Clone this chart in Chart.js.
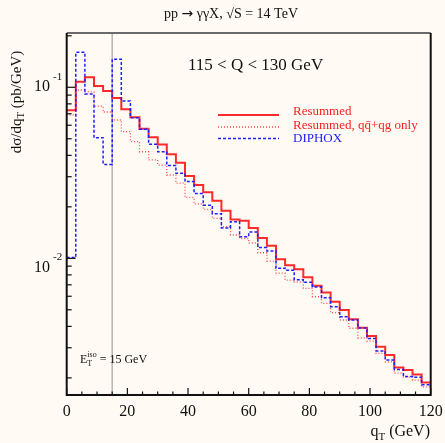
<!DOCTYPE html>
<html>
<head>
<meta charset="utf-8">
<script src="https://cdn.jsdelivr.net/npm/chart.js@4.4.1/dist/chart.umd.min.js"></script>
<style>
    html, body { margin: 0; padding: 0; background: #fffaf3; }
    #wrap { width: 445px; height: 443px; }
</style>
</head>
<body>
<div id="wrap"><canvas id="qtChart" width="445" height="443"></canvas></div>
<script>
// lower edges of the 3 GeV q_T bins
const binLow = [0, 3, 6, 9, 12, 15, 18, 21, 24, 27, 30, 33, 36, 39, 42, 45, 48, 51, 54, 57,
                60, 63, 66, 69, 72, 75, 78, 81, 84, 87, 90, 93, 96, 99, 102, 105, 108, 111, 114, 117];
const qtMax = 120;

// dsigma/dq_T in pb/GeV, one value per bin
const resummed = [0.0734, 0.1078, 0.1144, 0.1018, 0.0951, 0.0866, 0.0744, 0.0668, 0.0573, 0.0510,
                  0.0463, 0.0406, 0.0362, 0.0303, 0.0268, 0.0243, 0.0217, 0.0190, 0.01686, 0.01660,
                  0.01504, 0.01315, 0.01185, 0.00987, 0.00910, 0.00864, 0.00774, 0.00691, 0.00631, 0.00557,
                  0.00498, 0.00440, 0.00393, 0.00351, 0.00304, 0.00272, 0.00230, 0.00222, 0.00209, 0.00188];
const resummedQq = [0.0689, 0.0964, 0.0939, 0.0777, 0.0717, 0.0644, 0.0550, 0.0481, 0.0420, 0.0376,
                    0.0351, 0.0307, 0.0275, 0.0227, 0.0208, 0.0193, 0.01714, 0.01530, 0.01369, 0.01306,
                    0.01229, 0.01078, 0.00964, 0.00820, 0.00746, 0.00727, 0.00668, 0.00596, 0.00545, 0.00481,
                    0.00436, 0.00390, 0.00342, 0.00328, 0.00278, 0.00248, 0.00213, 0.00202, 0.00194, 0.00177];
const diphox = [0.0101, 0.1602, 0.0914, 0.0507, 0.0354, 0.1458, 0.0832, 0.0664, 0.0568, 0.0464,
                0.0420, 0.0349, 0.0314, 0.0281, 0.0239, 0.0204, 0.01823, 0.01504, 0.01637, 0.01338,
                0.01425, 0.01156, 0.01103, 0.00874, 0.00851, 0.00750, 0.00724, 0.00680, 0.00588, 0.00521,
                0.00455, 0.00436, 0.00391, 0.00340, 0.00287, 0.00254, 0.00224, 0.00204, 0.00202, 0.00182];

const xTicks = [0, 20, 40, 60, 80, 100, 120];
const yDecades = [0.01, 0.1];
const yDecadeLabels = ["-2", "-1"];
const isoCut = 15;

const serif = "'Liberation Serif', 'DejaVu Serif', serif";

document.addEventListener("DOMContentLoaded", () => {
    const canvas = document.getElementById("qtChart");

    // histogram outline: one point per lower bin edge plus the closing edge
    function steps(values) {
        const pts = binLow.map((x, i) => ({ x: x, y: values[i] }));
        pts.push({ x: qtMax, y: values[values.length - 1] });
        return pts;
    }

    // text made of pieces with their own size and vertical shift (sub/superscripts);
    // a piece with keep:true does not move the pen, so the next one stacks over it
    function richText(ctx, parts, x, y, align) {
        let total = 0;
        parts.forEach(p => {
            ctx.font = p.size + "px " + (p.family || serif);
            p.w = ctx.measureText(p.t).width;
            if (!p.keep) total += p.w;
        });
        let cx = x;
        if (align === "center") cx = x - total / 2;
        if (align === "right") cx = x - total;
        parts.forEach(p => {
            ctx.font = p.size + "px " + (p.family || serif);
            ctx.fillStyle = p.color || "#111";
            ctx.fillText(p.t, cx, y + (p.dy || 0));
            if (!p.keep) cx += p.w;
        });
    }

    const framePlugin = {
        id: "frame",
        beforeDraw(chart) {
            const ctx = chart.ctx;
            ctx.save();
            ctx.fillStyle = "#fffaf3";
            ctx.fillRect(0, 0, chart.width, chart.height);
            ctx.restore();
        },
        beforeDatasetsDraw(chart) {
            const ctx = chart.ctx;
            const a = chart.chartArea;
            const px = chart.scales.x.getPixelForValue(isoCut);
            ctx.save();
            ctx.strokeStyle = "#b4b4b4";
            ctx.lineWidth = 1.5;
            ctx.beginPath();
            ctx.moveTo(px, a.top);
            ctx.lineTo(px, a.bottom);
            ctx.stroke();
            ctx.restore();
        },
        afterDraw(chart) {
            const ctx = chart.ctx;
            const a = chart.chartArea;
            const xs = chart.scales.x;
            const ys = chart.scales.y;
            ctx.save();

            // box
            ctx.lineWidth = 2;
            ctx.strokeStyle = "#6a6a6a";
            ctx.beginPath();
            ctx.moveTo(a.left, a.top);
            ctx.lineTo(a.right, a.top);
            ctx.stroke();
            ctx.strokeStyle = "#111";
            ctx.beginPath();
            ctx.moveTo(a.left, a.top);
            ctx.lineTo(a.left, a.bottom);
            ctx.lineTo(a.right, a.bottom);
            ctx.lineTo(a.right, a.top);
            ctx.stroke();

            // x ticks, every 5 GeV, long ones every 20
            ctx.lineWidth = 1.2;
            for (let v = 0; v <= qtMax; v += 5) {
                const p = xs.getPixelForValue(v);
                const len = v % 20 === 0 ? 7 : 3.5;
                ctx.beginPath();
                ctx.moveTo(p, a.bottom);
                ctx.lineTo(p, a.bottom - len);
                ctx.stroke();
            }

            // y ticks on the log axis
            [0.001, 0.01, 0.1].forEach(dec => {
                for (let m = 1; m < 10; m++) {
                    const v = dec * m;
                    if (v < ys.min || v > ys.max) continue;
                    const p = ys.getPixelForValue(v);
                    const len = m === 1 ? 9 : 5;
                    ctx.beginPath();
                    ctx.moveTo(a.left, p);
                    ctx.lineTo(a.left + len, p);
                    ctx.stroke();
                }
            });

            ctx.textBaseline = "middle";
            ctx.textAlign = "left";

            // x tick labels
            xTicks.forEach(v => {
                richText(ctx, [{ t: String(v), size: 16 }], xs.getPixelForValue(v), 412, "center");
            });

            // y decade labels
            yDecades.forEach((v, i) => {
                const p = ys.getPixelForValue(v);
                const shift = i === 0 ? 9 : 0;
                richText(ctx, [{ t: "10", size: 16 }], 50, p + shift, "right");
                richText(ctx, [{ t: yDecadeLabels[i], size: 11 }], 53, p + shift - 10, "left");
            });

            // axis titles
            richText(ctx, [
                { t: "q", size: 16 },
                { t: "T", size: 11, dy: 5 },
                { t: " (GeV)", size: 16 }
            ], 430, 432, "right");

            ctx.save();
            ctx.translate(17, 102);
            ctx.rotate(-Math.PI / 2);
            richText(ctx, [
                { t: "dσ/dq", size: 15 },
                { t: "T", size: 11, dy: 4 },
                { t: " (pb/GeV)", size: 15 }
            ], 0, 0, "center");
            ctx.restore();

            // heading and annotations
            richText(ctx, [
                { t: "pp ", size: 14 },
                { t: "→", size: 14, family: "'DejaVu Sans', sans-serif" },
                { t: " γγX, √S = 14 TeV", size: 14 }
            ], 231, 14, "center");
            richText(ctx, [{ t: "115 < Q < 130 GeV", size: 17 }], 188, 66, "left");
            richText(ctx, [
                { t: "E", size: 12 },
                { t: "T", size: 8, dy: 4, keep: true },
                { t: "iso", size: 8, dy: -5 },
                { t: " = 15 GeV", size: 12 }
            ], 80, 360, "left");

            // legend
            const legend = [
                { label: "Resummed", color: "#ff2a2a", width: 2, dash: [] },
                { label: "Resummed, qq\u0304+qg only", color: "#ff4a4a", width: 1.3, dash: [1, 2] },
                { label: "DIPHOX", color: "#1f1fff", width: 1.5, dash: [3, 2] }
            ];
            const rowsY = [112, 126, 139];
            const lineY = [115, 127, 138.5];
            legend.forEach((l, i) => {
                ctx.strokeStyle = l.color;
                ctx.lineWidth = l.width;
                ctx.setLineDash(l.dash);
                ctx.beginPath();
                ctx.moveTo(218, lineY[i]);
                ctx.lineTo(279, lineY[i]);
                ctx.stroke();
                ctx.setLineDash([]);
                richText(ctx, [{ t: l.label, size: 13, color: i === 2 ? "#1a1aff" : "#ff2020" }], 293, rowsY[i], "left");
            });

            ctx.restore();
        }
    };

    new Chart(canvas, {
        type: "line",
        plugins: [framePlugin],
        data: {
            datasets: [
                {
                    label: "DIPHOX",
                    data: steps(diphox),
                    borderColor: "#1f1fff",
                    borderWidth: 1.5,
                    borderDash: [3, 2],
                    stepped: "before",
                    pointRadius: 0,
                    fill: false
                },
                {
                    label: "Resummed",
                    data: steps(resummed),
                    borderColor: "#ff2a2a",
                    borderWidth: 2,
                    stepped: "before",
                    pointRadius: 0,
                    fill: false
                },
                {
                    label: "Resummed, qq̄+qg only",
                    data: steps(resummedQq),
                    borderColor: "#ff4a4a",
                    borderWidth: 1.3,
                    borderDash: [1, 2],
                    stepped: "before",
                    pointRadius: 0,
                    fill: false
                }
            ]
        },
        options: {
            responsive: false,
            animation: false,
            layout: {
                padding: { left: 66.7, right: 14.3, top: 33, bottom: 48 }
            },
            scales: {
                x: {
                    type: "linear",
                    min: 0,
                    max: qtMax,
                    display: false
                },
                y: {
                    type: "logarithmic",
                    min: 0.001588,
                    max: 0.2077,
                    display: false
                }
            },
            plugins: {
                legend: {
                    display: false,
                },
                tooltip: {
                    enabled: false
                }
            }
        }
    });
});
</script>
</body>
</html>
